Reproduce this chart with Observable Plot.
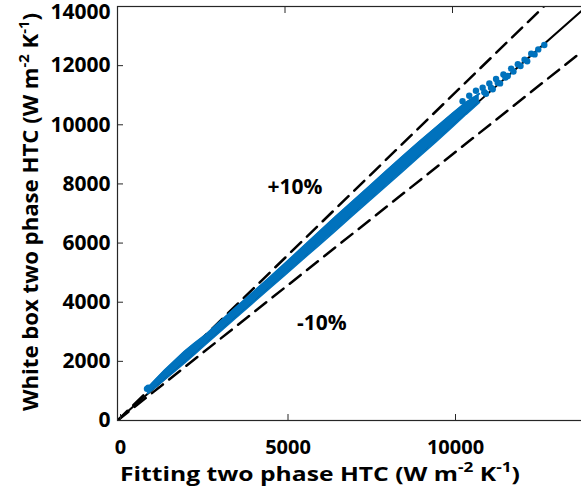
<!DOCTYPE html>
<html>
<head>
<meta charset="utf-8">
<script src="https://cdn.jsdelivr.net/npm/d3@7"></script>
<script src="https://cdn.jsdelivr.net/npm/@observablehq/plot@0.6"></script>
<style>
html, body { margin: 0; padding: 0; overflow: hidden; background: #fff; }
#chart { width: 581px; height: 497px; overflow: hidden; }
#chart svg { max-width: none !important; }
</style>
</head>
<body>
<div id="chart"></div>
<script>
// ---- data ----
const xTicks = [0, 5000, 10000];
const yTicks = [0, 2000, 4000, 6000, 8000, 10000, 12000, 14000];

// reference lines y = ratio * x
const refRatios = [1, 1.1, 0.9];
const refX = [0, 14000];

// dense part of the scatter: lower / upper envelope of the point cloud
const bandX    = [900, 1100, 1400, 1700, 2000, 2300, 2600, 3000, 3500, 4000, 4500, 5000, 5500, 6000, 6500, 7000, 7500, 8000, 8500, 9000, 9500, 10000, 10400, 10800];
const bandLow  = [920, 1100, 1390, 1670, 1950, 2250, 2550, 2950, 3450, 3940, 4440, 4930, 5430, 5920, 6420, 6920, 7420, 7920, 8420, 8930, 9430, 9940, 10360, 10760];
const bandHigh = [1100, 1340, 1690, 2010, 2330, 2610, 2870, 3280, 3790, 4290, 4790, 5310, 5830, 6360, 6880, 7390, 7900, 8410, 8920, 9420, 9900, 10380, 10750, 11050];

// sparse points at the top end (saw-tooth clusters)
const ptX = [880, 920, 10300, 10500, 10700, 10900, 10950, 11000, 11100, 11150, 11200, 11300, 11350, 11420, 11520, 11580, 11650, 11750, 11820, 11950, 12030, 12150, 12230, 12350, 12450, 12560, 12740];
const ptY = [1070, 1110, 10800, 10980, 11150, 11250, 11100, 11050, 11400, 11250, 11200, 11550, 11420, 11400, 11700, 11600, 11650, 11900, 11800, 12050, 11990, 12200, 12150, 12400, 12380, 12550, 12700];

const annLabels = ["+10%", "-10%"];
const annX = [5300, 6100];
const annY = [7880, 3280];

// ---- build tables ----
const blue = "#0072BD";
const band = bandX.map((x, i) => ({x, low: bandLow[i], high: bandHigh[i]}));
const pts = ptX.map((x, i) => ({x, y: ptY[i]}));
const refLines = refRatios.flatMap(r => refX.map(x => ({r, x, y: r * x})));
const ann = annLabels.map((t, i) => ({t, x: annX[i], y: annY[i]}));

const font = "'Open Sans', sans-serif";
const axisColor = "#262626";

const svg = Plot.plot({
  width: 590,
  height: 497,
  marginLeft: 117,
  marginRight: 4,
  marginTop: 6,
  marginBottom: 77,
  style: {fontFamily: font, background: "#fff", maxWidth: "none"},
  x: {domain: [0, 14000], label: null},
  y: {domain: [0, 14000], label: null},
  marks: [
    Plot.line(refLines.filter(d => d.r === 1), {x: "x", y: "y", stroke: "#000", strokeWidth: 2, clip: true}),
    Plot.line(refLines.filter(d => d.r !== 1), {x: "x", y: "y", z: "r", stroke: "#000", strokeWidth: 2.5, strokeDasharray: "14,8", clip: true}),
    Plot.areaY(band, {x: "x", y1: "low", y2: "high", fill: blue}),
    Plot.line(band, {x: "x", y: "low", stroke: blue, strokeWidth: 2}),
    Plot.line(band, {x: "x", y: "high", stroke: blue, strokeWidth: 2}),
    Plot.dot(pts, {x: "x", y: "y", r: 3.2, fill: blue, stroke: "none"}),
    Plot.text(ann, {x: "x", y: "y", text: "t", fontSize: 21, fontWeight: "bold", fill: "#000"}),
    Plot.frame({stroke: axisColor, strokeWidth: 1.2}),
    Plot.axisX({ticks: xTicks, tickSize: -6, tickPadding: 25, fontSize: 20, fontWeight: "bold", fill: "#000", stroke: axisColor, label: null, tickFormat: d => String(d), dx: 3}),
    Plot.axisX({anchor: "top", ticks: xTicks, tickSize: -6, stroke: axisColor, label: null, tickFormat: () => ""}),
    Plot.axisY({ticks: yTicks, tickSize: -6, tickPadding: 13, fontSize: 21, fontWeight: "bold", fill: "#000", stroke: axisColor, label: null, tickFormat: d => String(d)}),
    Plot.axisY({anchor: "right", ticks: yTicks, tickSize: -6, stroke: axisColor, label: null, tickFormat: () => ""})
  ]
});
svg.style.maxWidth = "none";

document.getElementById("chart").appendChild(svg);

const s = d3.select(svg);
// the top y label sits just inside the figure in the reference
s.selectAll("text").filter(function () { return this.textContent === "14000"; })
  .each(function () {
    const tr = this.getAttribute("transform") || "";
    this.setAttribute("transform", tr + " translate(0,6)");
  });

// axis titles with superscripts
function addTitle(sel, parts) {
  parts.forEach(p => {
    const t = sel.append("tspan").text(p.t);
    if (p.sup) t.attr("baseline-shift", "super").attr("font-size", "14px");
  });
}
const xt = s.append("text")
  .attr("x", 320).attr("y", 481)
  .attr("text-anchor", "middle")
  .attr("textLength", 400).attr("lengthAdjust", "spacingAndGlyphs")
  .attr("font-family", font).attr("font-weight", "bold").attr("font-size", "20px")
  .attr("fill", "#000");
addTitle(xt, [{t: "Fitting two phase HTC (W m"}, {t: "-2", sup: true}, {t: " K"}, {t: "-1", sup: true}, {t: ")"}]);

const yt = s.append("text")
  .attr("transform", "translate(38,212) rotate(-90)")
  .attr("text-anchor", "middle")
  .attr("textLength", 398).attr("lengthAdjust", "spacingAndGlyphs")
  .attr("font-family", font).attr("font-weight", "bold").attr("font-size", "21px")
  .attr("fill", "#000");
addTitle(yt, [{t: "White box two phase HTC (W m"}, {t: "-2", sup: true}, {t: " K"}, {t: "-1", sup: true}, {t: ")"}]);
</script>
</body>
</html>
